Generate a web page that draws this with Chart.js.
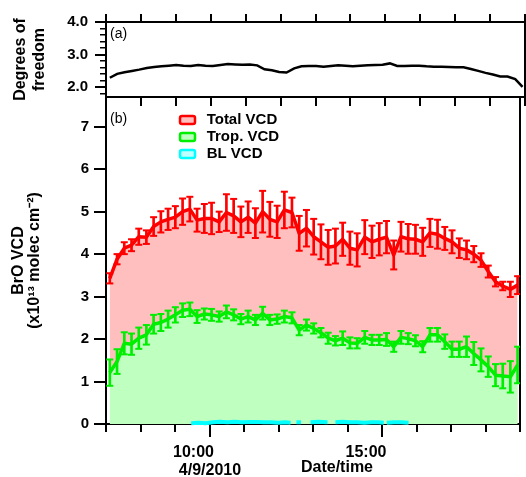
<!DOCTYPE html>
<html>
<head>
<meta charset="utf-8">
<script src="https://cdn.jsdelivr.net/npm/chart.js@4.4.1/dist/chart.umd.min.js"></script>
<style>
  body { margin: 0; background: #fff; }
  #wrap { position: relative; width: 526px; height: 477px; }
  #wrap canvas { position: absolute; left: 0; top: 0; }
</style>
</head>
<body>
<div id="wrap">
  <canvas id="dofChart" width="526" height="477"></canvas>
  <canvas id="vcdChart" width="526" height="477"></canvas>
</div>
<script>
// scan times, decimal hours on 4/9/2010
const times = [7.11, 7.32, 7.53, 7.74, 7.95, 8.17, 8.38, 8.59, 8.80, 9.01, 9.22, 9.43, 9.64, 9.85,
  10.06, 10.28, 10.49, 10.70, 10.91, 11.12, 11.33, 11.54, 11.75, 11.96, 12.17, 12.39, 12.60, 12.81,
  13.02, 13.23, 13.44, 13.65, 13.86, 14.07, 14.28, 14.50, 14.71, 14.92, 15.13, 15.34, 15.55, 15.76,
  15.97, 16.18, 16.39, 16.61, 16.82, 17.03, 17.24, 17.45, 17.66, 17.87, 18.08, 18.29, 18.50, 18.72, 18.93];

// (a) degrees of freedom
const dof = [2.29, 2.41, 2.46, 2.50, 2.54, 2.59, 2.62, 2.64, 2.66, 2.68, 2.66, 2.65, 2.68, 2.66,
  2.65, 2.68, 2.71, 2.70, 2.69, 2.70, 2.67, 2.55, 2.52, 2.47, 2.45, 2.58, 2.64, 2.65,
  2.65, 2.63, 2.65, 2.67, 2.66, 2.64, 2.66, 2.67, 2.68, 2.69, 2.73, 2.65, 2.65, 2.66,
  2.66, 2.64, 2.63, 2.63, 2.62, 2.61, 2.61, 2.56, 2.50, 2.44, 2.39, 2.33, 2.33, 2.25, 2.01];

// (b) BrO VCD, x10^13 molec cm^-2
const totalVcd = [3.43, 3.88, 4.14, 4.21, 4.41, 4.40, 4.65, 4.76, 4.82, 4.87, 5.00, 5.06, 4.80, 4.84,
  4.84, 4.76, 4.98, 4.90, 4.76, 4.87, 4.73, 5.00, 4.82, 4.76, 5.04, 4.98, 4.49, 4.61,
  4.41, 4.29, 4.16, 4.19, 4.35, 4.14, 4.10, 4.40, 4.29, 4.35, 4.40, 3.98, 4.41, 4.36,
  4.35, 4.29, 4.50, 4.47, 4.37, 4.29, 4.14, 4.10, 4.00, 3.86, 3.59, 3.35, 3.25, 3.17, 3.27];
const totalErr = [0.12, 0.12, 0.14, 0.14, 0.19, 0.16, 0.22, 0.25, 0.25, 0.26, 0.31, 0.29, 0.27, 0.34,
  0.37, 0.24, 0.43, 0.40, 0.36, 0.37, 0.35, 0.49, 0.41, 0.38, 0.43, 0.35, 0.41, 0.43,
  0.42, 0.41, 0.41, 0.41, 0.39, 0.39, 0.39, 0.40, 0.38, 0.38, 0.38, 0.34, 0.35, 0.35,
  0.34, 0.33, 0.33, 0.34, 0.27, 0.27, 0.23, 0.22, 0.19, 0.16, 0.14, 0.11, 0.10, 0.18, 0.21];
const tropVcd = [1.21, 1.47, 1.90, 1.88, 2.02, 2.10, 2.35, 2.39, 2.47, 2.57, 2.68, 2.70, 2.53, 2.59,
  2.57, 2.53, 2.64, 2.57, 2.47, 2.53, 2.45, 2.61, 2.45, 2.47, 2.53, 2.50, 2.21, 2.33,
  2.25, 2.15, 2.02, 1.96, 2.02, 1.91, 1.90, 2.04, 1.98, 1.98, 1.99, 1.82, 2.04, 2.01,
  1.96, 1.82, 2.10, 2.10, 1.94, 1.76, 1.76, 1.82, 1.66, 1.51, 1.35, 1.15, 1.13, 1.11, 1.39];
const tropErr = [0.31, 0.29, 0.26, 0.25, 0.25, 0.23, 0.22, 0.20, 0.20, 0.18, 0.16, 0.16, 0.15, 0.13,
  0.14, 0.12, 0.15, 0.13, 0.12, 0.14, 0.12, 0.15, 0.12, 0.11, 0.14, 0.13, 0.12, 0.13,
  0.12, 0.11, 0.13, 0.11, 0.16, 0.13, 0.12, 0.15, 0.12, 0.12, 0.15, 0.12, 0.15, 0.13,
  0.13, 0.13, 0.16, 0.16, 0.17, 0.18, 0.18, 0.24, 0.27, 0.27, 0.24, 0.26, 0.29, 0.37, 0.43];
const blTimes = [9.47, 9.68, 9.89, 10.10, 10.31, 10.52, 10.73, 10.94, 11.15, 11.36, 11.57, 11.78,
  11.99, 12.20, 12.35, 12.44, 12.52, 12.65, 12.79, 12.93, 13.15, 13.42, 13.53, 13.65, 13.86,
  14.07, 14.28, 14.49, 14.70, 14.91, 15.05, 15.10, 15.14, 15.35, 15.56, 15.77];
const blVcd = [0.02, 0.03, 0.02, 0.04, 0.05, 0.04, 0.05, 0.04, 0.05, 0.05, 0.04, 0.04,
  0.03, 0.04, 0.03, null, 0.04, 0.04, null, 0.04, 0.05, 0.04, null, 0.04, 0.05,
  0.04, 0.04, 0.03, 0.04, 0.04, 0.03, null, 0.03, 0.04, 0.04, 0.03];

const seriesNames = ['Total VCD', 'Trop. VCD', 'BL VCD'];
const hourTicks = [10, 15];
const hourLabels = ['10:00', '15:00'];

const RED = '#ff0000', RED_FILL = '#ffbfbf';
const GREEN = '#00ee00', GREEN_FILL = '#bfffbf';
const CYAN = '#00ffff', CYAN_FILL = '#bfffff';
const FONT = '"Liberation Sans", Arial, Helvetica, sans-serif';

Chart.defaults.font.family = FONT;
Chart.defaults.color = '#000';

const pts = (xs, ys) => xs.map((x, i) => ({ x: x, y: ys[i] }));
const errBars = (v, e) => times.map((t, i) => ({ x: t, y: [v[i] - e[i], v[i] + e[i]] }));
const errCaps = (v, e) => times.flatMap((t, i) => [{ x: t, y: v[i] - e[i] }, { x: t, y: v[i] + e[i] }]);

const black = { color: '#000', width: 2 };
const tickGrid = len => ({ drawOnChartArea: false, color: '#000', lineWidth: 2, tickLength: len });

function textPlugin(items) {
  return {
    id: 'panelText',
    afterDraw(chart) {
      const ctx = chart.ctx;
      ctx.save();
      ctx.fillStyle = '#000';
      ctx.textBaseline = 'middle';
      items.forEach(it => {
        ctx.font = it.font;
        ctx.textAlign = it.align || 'left';
        ctx.fillText(it.text, it.x, it.y);
      });
      ctx.restore();
    }
  };
}

// top panel: degrees of freedom
new Chart(document.getElementById('dofChart'), {
  type: 'line',
  data: {
    datasets: [{
      data: pts(times, dof),
      borderColor: '#000',
      borderWidth: 2.5,
      pointRadius: 0,
      fill: false
    }]
  },
  options: {
    responsive: false,
    animation: false,
    devicePixelRatio: 1,
    events: [],
    layout: { padding: 0 },
    plugins: { legend: { display: false }, tooltip: { enabled: false } },
    scales: {
      x: {
        type: 'linear', position: 'bottom', min: 7, max: 19, offset: false,
        ticks: { stepSize: 1, display: false },
        grid: tickGrid(9), border: black,
        afterFit: s => { s.height = 380; }
      },
      xTop: {
        type: 'linear', position: 'top', min: 7, max: 19,
        ticks: { stepSize: 1, display: false },
        grid: tickGrid(8), border: black,
        afterFit: s => { s.height = 22; }
      },
      y: {
        position: 'left', weight: 1, min: 1.7, max: 4,
        ticks: {
          stepSize: 1, includeBounds: false, padding: 7,
          font: { size: 15, weight: 'bold' },
          callback: v => v.toFixed(1)
        },
        grid: tickGrid(11), border: black,
        title: {
          display: true, text: ['Degrees of', 'freedom'],
          font: { size: 16, weight: 'bold', lineHeight: 1.2 },
          padding: { top: 11, bottom: 0 }
        },
        afterFit: s => { s.width = 106; }
      },
      yMinor: {
        position: 'left', weight: 0, min: 1.7, max: 4,
        ticks: { stepSize: 0.2, includeBounds: false, display: false },
        grid: { drawOnChartArea: false, color: '#000', lineWidth: 1.5, tickLength: 6 },
        border: black,
        afterFit: s => { s.width = 0; }
      },
      yRight: {
        position: 'right', min: 1.7, max: 4,
        ticks: { display: false }, grid: { display: false }, border: black,
        afterFit: s => { s.width = 1; }
      }
    }
  },
  plugins: [textPlugin([{ text: '(a)', x: 110, y: 34, font: '14px ' + FONT }])]
});

// bottom panel: BrO VCD
const placeLegend = {
  id: 'placeLegend',
  afterLayout(chart) {
    const lg = chart.legend;
    if (!lg) return;
    const w = lg.width, h = lg.height;
    lg.left = 178; lg.top = 110.5;
    lg.right = lg.left + w; lg.bottom = lg.top + h;
  }
};

new Chart(document.getElementById('vcdChart'), {
  type: 'line',
  data: {
    datasets: [
      {
        label: seriesNames[2], data: pts(blTimes, blVcd), order: 0, clip: false,
        borderColor: CYAN, borderWidth: 4, pointRadius: 0, spanGaps: false, fill: false
      },
      {
        type: 'line', data: errCaps(tropVcd, tropErr), order: 1, showLine: false,
        pointStyle: 'line', pointRadius: 3.5, pointBorderWidth: 2,
        pointBorderColor: GREEN, pointBackgroundColor: GREEN
      },
      {
        type: 'bar', data: errBars(tropVcd, tropErr), order: 1, grouped: false,
        barThickness: 2, backgroundColor: GREEN, borderWidth: 0
      },
      {
        label: seriesNames[1], data: pts(times, tropVcd), order: 2,
        borderColor: GREEN, borderWidth: 3.5, backgroundColor: GREEN_FILL,
        pointRadius: 0, fill: 'origin', borderJoinStyle: 'round'
      },
      {
        type: 'line', data: errCaps(totalVcd, totalErr), order: 3, showLine: false,
        pointStyle: 'line', pointRadius: 3.5, pointBorderWidth: 2,
        pointBorderColor: RED, pointBackgroundColor: RED
      },
      {
        type: 'bar', data: errBars(totalVcd, totalErr), order: 3, grouped: false,
        barThickness: 2, backgroundColor: RED, borderWidth: 0
      },
      {
        label: seriesNames[0], data: pts(times, totalVcd), order: 4,
        borderColor: RED, borderWidth: 3.5, backgroundColor: RED_FILL,
        pointRadius: 0, fill: 'origin', borderJoinStyle: 'round'
      }
    ]
  },
  options: {
    responsive: false,
    animation: false,
    devicePixelRatio: 1,
    events: [],
    layout: { padding: { top: 97, left: 0, right: 0, bottom: 0 } },
    plugins: {
      tooltip: { enabled: false },
      legend: {
        position: 'chartArea', align: 'start', onClick: null,
        labels: {
          font: { size: 15, weight: 'bold' },
          boxWidth: 15, boxHeight: 8, padding: 2,
          generateLabels: () => [
            { text: ' ' + seriesNames[0], fillStyle: RED_FILL, strokeStyle: RED, lineWidth: 2.5, borderRadius: 2, hidden: false },
            { text: ' ' + seriesNames[1], fillStyle: GREEN_FILL, strokeStyle: GREEN, lineWidth: 2.5, borderRadius: 2, hidden: false },
            { text: ' ' + seriesNames[2], fillStyle: CYAN_FILL, strokeStyle: CYAN, lineWidth: 2.5, borderRadius: 2, hidden: false }
          ]
        }
      }
    },
    scales: {
      x: {
        type: 'linear', position: 'bottom', weight: 0, min: 7, max: 19, offset: false,
        ticks: { stepSize: 1, display: false },
        grid: Object.assign(tickGrid(8), { offset: false }), border: black,
        afterFit: s => { s.height = 0; }
      },
      xLab: {
        type: 'linear', position: 'bottom', weight: 1, min: 7, max: 19, offset: false,
        ticks: {
          stepSize: 5, includeBounds: false, labelOffset: -16, padding: 6,
          maxRotation: 0, autoSkip: false,
          font: { size: 16, weight: 'bold' },
          callback: v => { const k = hourTicks.indexOf(v); return k < 0 ? '' : hourLabels[k]; }
        },
        grid: tickGrid(13), border: black,
        afterFit: s => { s.height = 53; }
      },
      y: {
        position: 'left', min: 0, max: 7.7, beginAtZero: true,
        ticks: { stepSize: 1, includeBounds: false, padding: 5, font: { size: 15, weight: 'bold' } },
        grid: tickGrid(12), border: black,
        title: {
          display: true, text: ['BrO VCD', '(x10\u00b9\u00b3 molec cm\u207b\u00b2)'],
          font: { size: 16, weight: 'bold', lineHeight: 1.0 },
          padding: { top: 11, bottom: 0 }
        },
        afterFit: s => { s.width = 106; }
      },
      yRight: {
        position: 'right', min: 0, max: 7.7,
        ticks: { display: false }, grid: { display: false }, border: black,
        afterFit: s => { s.width = 1; }
      }
    }
  },
  plugins: [placeLegend, textPlugin([
    { text: '(b)', x: 110, y: 119, font: '14px ' + FONT },
    { text: '4/9/2010', x: 210, y: 470.5, align: 'center', font: 'bold 16px ' + FONT },
    { text: 'Date/time', x: 337, y: 467.5, align: 'center', font: 'bold 16px ' + FONT }
  ])]
});
</script>
</body>
</html>
